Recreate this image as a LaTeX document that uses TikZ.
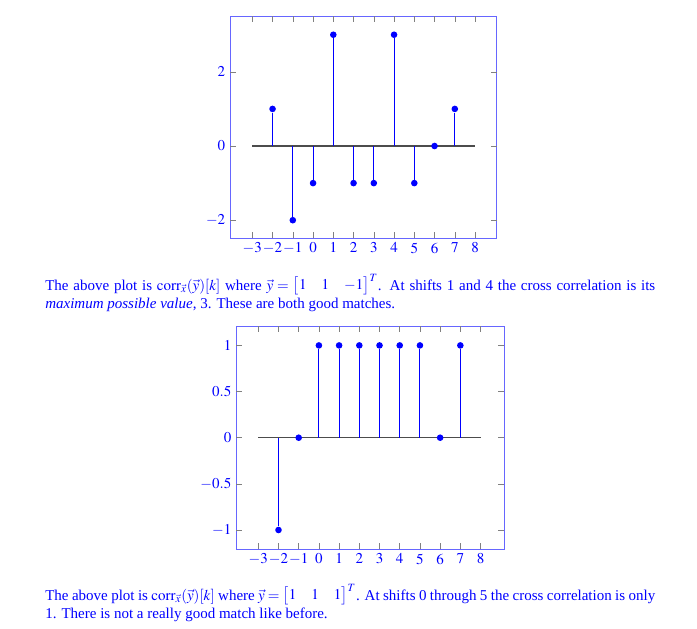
\documentclass[tikz,border=0pt]{standalone}
\usepackage{amsmath}
\usepackage{mathptmx}
\usepackage{fontspec}
\setmainfont{Liberation Serif}
\usepackage{tikz}

\tikzset{
	plotframe/.style={draw=blue!60, line width=0.6pt},
	tickmark/.style={draw=gray, line width=0.4pt},
	zeroline/.style={draw=black!70, line width=1pt},
	stem/.style={draw=blue, line width=0.6pt},
	sample/.style={circle, fill=blue, inner sep=0pt, minimum size=4.4pt},
	xlab/.style={anchor=north, text=blue, inner sep=3pt},
	ylab/.style={anchor=east, text=blue, inner sep=3pt},
	remark/.style={text=blue, text width=406.67pt, align=justify, inner sep=0pt, anchor=base west}
}

\begin{document}
\begin{tikzpicture}
	\useasboundingbox (0,0) rectangle (464.67pt,418.67pt);

	% upper plot
	\begin{scope}[shift={(208.7pt,321.33pt)}, x=13.5pt, y=24.73pt]
		\draw[plotframe] (-4.10,-2.48) rectangle (9.08,3.504);
		\foreach \k in {-3,...,8} {
			\draw[tickmark] (\k,-2.48) -- ++(0pt,4pt);
			\draw[tickmark] (\k,3.504) -- ++(0pt,-4pt);
			\node[xlab] (ax\k) at (\k,-2.48) {$\k$};
		}
		\foreach \y in {-2,0,2} {
			\draw[tickmark] (-4.10,\y) -- ++(4pt,0pt);
			\draw[tickmark] (9.08,\y) -- ++(-4pt,0pt);
			\node[ylab] (ay\y) at (-4.10,\y) {$\y$};
		}
		\coordinate (o1) at (0,0);
		\draw[zeroline] (-3,0) -- (8,0);
		\begin{scope}[every node/.style={sample}]
			\node (a1) at (-2,1) {};
			\node (a2) at (-1,-2) {};
			\node (a3) at (0,-1) {};
			\node (a4) at (1,3) {};
			\node (a5) at (2,-1) {};
			\node (a6) at (3,-1) {};
			\node (a7) at (4,3) {};
			\node (a8) at (5,-1) {};
			\node (a9) at (6,0) {};
			\node (a10) at (7,1) {};
		\end{scope}
		\begin{scope}[every edge/.style={stem}]
			\path (a1) edge (a1 |- o1);
			\path (a2) edge (a2 |- o1);
			\path (a3) edge (a3 |- o1);
			\path (a4) edge (a4 |- o1);
			\path (a5) edge (a5 |- o1);
			\path (a6) edge (a6 |- o1);
			\path (a7) edge (a7 |- o1);
			\path (a8) edge (a8 |- o1);
			\path (a10) edge (a10 |- o1);
		\end{scope}
	\end{scope}

	\node[remark] (text1) at (30pt,225.33pt) {The above plot is
		$\operatorname{corr}_{\vec{x}}(\vec{y})[k]$ where
		$\vec{y}=\begin{bmatrix}1 & 1 & -1\end{bmatrix}^T$. At shifts 1 and 4 the
		cross correlation is its \emph{maximum possible value}, 3. These are both
		good matches.};

	% lower plot
	\begin{scope}[shift={(212.6pt,126.87pt)}, x=13.47pt, y=61.53pt]
		\draw[plotframe] (-4.10,-1.206) rectangle (9.16,1.21);
		\foreach \k in {-3,...,8} {
			\draw[tickmark] (\k,-1.206) -- ++(0pt,4pt);
			\draw[tickmark] (\k,1.21) -- ++(0pt,-4pt);
			\node[xlab] (bx\k) at (\k,-1.206) {$\k$};
		}
		\foreach \y in {-1,-0.5,0,0.5,1} {
			\draw[tickmark] (-4.10,\y) -- ++(4pt,0pt);
			\draw[tickmark] (9.16,\y) -- ++(-4pt,0pt);
			\node[ylab] (by\y) at (-4.10,\y) {$\y$};
		}
		\coordinate (o2) at (0,0);
		\draw[zeroline] (-3,0) -- (8,0);
		\begin{scope}[every node/.style={sample}]
			\node (b1) at (-2,-1) {};
			\node (b2) at (-1,0) {};
			\node (b3) at (0,1) {};
			\node (b4) at (1,1) {};
			\node (b5) at (2,1) {};
			\node (b6) at (3,1) {};
			\node (b7) at (4,1) {};
			\node (b8) at (5,1) {};
			\node (b9) at (6,0) {};
			\node (b10) at (7,1) {};
		\end{scope}
		\begin{scope}[every edge/.style={stem}]
			\path (b1) edge (b1 |- o2);
			\path (b3) edge (b3 |- o2);
			\path (b4) edge (b4 |- o2);
			\path (b5) edge (b5 |- o2);
			\path (b6) edge (b6 |- o2);
			\path (b7) edge (b7 |- o2);
			\path (b8) edge (b8 |- o2);
			\path (b10) edge (b10 |- o2);
		\end{scope}
	\end{scope}

	\node[remark] (text2) at (30pt,18.67pt) {The above plot is
		$\operatorname{corr}_{\vec{x}}(\vec{y})[k]$ where
		$\vec{y}=\begin{bmatrix}1 & 1 & 1\end{bmatrix}^T$. At shifts 0 through 5
		the cross correlation is only 1. There is not a really good match like
		before.};
\end{tikzpicture}
\end{document}
